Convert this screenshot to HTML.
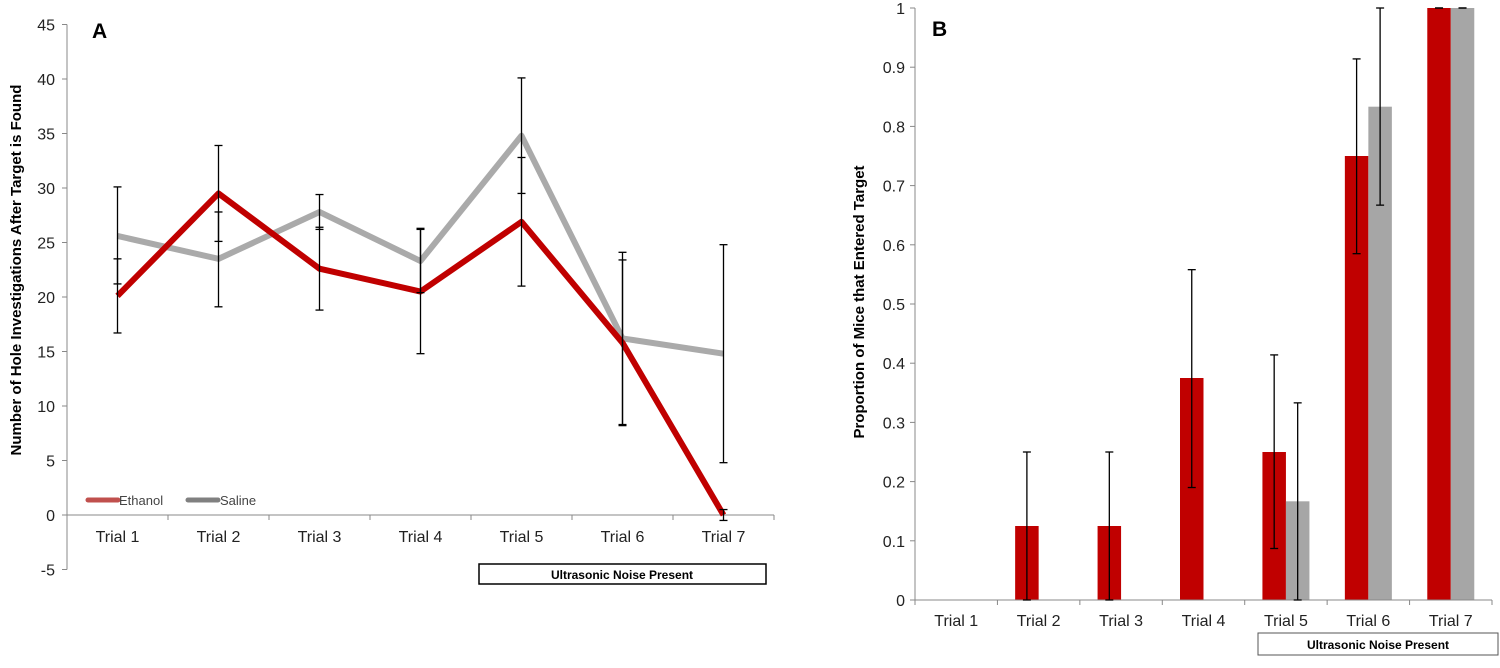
<!DOCTYPE html>
<html><head><meta charset="utf-8"><style>
body{margin:0;background:#fff;width:1500px;height:663px;overflow:hidden}
svg{font-family:"Liberation Sans",Arial,sans-serif}
</style></head><body>
<svg id="c" width="1500" height="663"></svg>
<script>
const categories=["Trial 1","Trial 2","Trial 3","Trial 4","Trial 5","Trial 6","Trial 7"];
const ethA=[20.1,29.5,22.6,20.5,26.9,15.8,0];
const salA=[25.6,23.5,27.8,23.3,34.8,16.2,14.8];
const ethALo=[16.7,25.1,18.8,14.8,21.0,8.3,-0.5];
const ethAHi=[23.5,33.9,26.4,26.2,32.8,23.4,0.5];
const salALo=[21.2,19.1,26.2,20.4,29.5,8.2,4.8];
const salAHi=[30.1,27.8,29.4,26.3,40.1,24.1,24.8];
const ticksA=[-5,0,5,10,15,20,25,30,35,40,45];
const ethB=[0,0.125,0.125,0.375,0.25,0.75,1];
const salB=[0,0,0,0,0.1667,0.8333,1];
const ethBLo=[null,0,0,0.19,0.087,0.585,1];
const ethBHi=[null,0.25,0.25,0.558,0.414,0.914,1];
const salBLo=[null,null,null,null,0,0.667,1];
const salBHi=[null,null,null,null,0.333,1,1];
const ticksB=[0,0.1,0.2,0.3,0.4,0.5,0.6,0.7,0.8,0.9,1];

const svg=document.getElementById('c');
const NS='http://www.w3.org/2000/svg';
function el(t,a,txt){const e=document.createElementNS(NS,t);for(const k in a)e.setAttribute(k,a[k]);if(txt!==undefined)e.textContent=txt;svg.appendChild(e);return e;}

// ---- Panel A
const ax0=67,ax1=774,cwA=(ax1-ax0)/7;
const yA=v=>515-(v)*10.9;
const xA=i=>ax0+cwA*(i+0.5);
let e=el('line',{x1:ax0,y1:yA(45),x2:ax0,y2:yA(-5),stroke:'#888','stroke-width':1});

ticksA.forEach(t=>{
 el('line',{x1:ax0-5,x2:ax0,y1:yA(t),y2:yA(t),stroke:'#888'});
 e=el('text',{x:ax0-12,y:yA(t)+6,'text-anchor':'end','font-size':16,fill:'#222'},t);
 
});
e=el('line',{x1:ax0,y1:yA(0),x2:ax1,y2:yA(0),stroke:'#888'});

for(let i=0;i<=7;i++)el('line',{x1:ax0+cwA*i,x2:ax0+cwA*i,y1:yA(0),y2:yA(0)+5,stroke:'#888'});
categories.forEach((c,i)=>{
 e=el('text',{x:xA(i),y:yA(0)+27,'text-anchor':'middle','font-size':16,fill:'#222'},c);
 
});
function errA(i,lo,hi){el('line',{x1:xA(i),x2:xA(i),y1:yA(lo),y2:yA(hi),stroke:'#000','stroke-width':1.3});
 [lo,hi].forEach(v=>el('line',{x1:xA(i)-4,x2:xA(i)+4,y1:yA(v),y2:yA(v),stroke:'#000','stroke-width':1.3}));}
e=el('polyline',{points:salA.map((v,i)=>xA(i)+','+yA(v)).join(' '),fill:'none',stroke:'#aaa','stroke-width':6,'stroke-linejoin':'round'});

e=el('polyline',{points:ethA.map((v,i)=>xA(i)+','+yA(v)).join(' '),fill:'none',stroke:'#c00000','stroke-width':6,'stroke-linejoin':'round'});

categories.forEach((c,i)=>{errA(i,ethALo[i],ethAHi[i]);errA(i,salALo[i],salAHi[i]);});
e=el('line',{x1:88,x2:118,y1:500,y2:500,stroke:'#c0504d','stroke-width':5,'stroke-linecap':'round'});

e=el('text',{x:119,y:505,'font-size':13,fill:'#444'},'Ethanol');

e=el('line',{x1:188,x2:218,y1:500,y2:500,stroke:'#808080','stroke-width':5,'stroke-linecap':'round'});

e=el('text',{x:220,y:505,'font-size':13,fill:'#444'},'Saline');

e=el('text',{x:92,y:38,'font-size':21,'font-weight':'bold'},'A');

e=el('text',{x:0,y:0,'font-size':15,'font-weight':'bold','text-anchor':'middle',transform:'translate(21,270) rotate(-90)'},'Number of Hole Investigations After Target is Found');

e=el('rect',{x:479,y:564,width:287,height:20,fill:'#fff',stroke:'#000','stroke-width':1.5});

e=el('text',{x:622,y:579,'font-size':12,'font-weight':'bold','text-anchor':'middle'},'Ultrasonic Noise Present');


// ---- Panel B
const bx0=915,bx1=1492,cwB=(bx1-bx0)/7,bw=23.5;
const yB=v=>600-v*592;
const xB=i=>bx0+cwB*(i+0.5);
e=el('line',{x1:bx0,y1:yB(1),x2:bx0,y2:yB(0),stroke:'#888'});

ticksB.forEach(t=>{
 el('line',{x1:bx0-5,x2:bx0,y1:yB(t),y2:yB(t),stroke:'#888'});
 e=el('text',{x:bx0-10,y:yB(t)+6,'text-anchor':'end','font-size':16,fill:'#222'},t);
 
});
categories.forEach((c,i)=>{
 e=el('rect',{x:xB(i)-bw,y:yB(ethB[i]),width:bw,height:yB(0)-yB(ethB[i]),fill:'#c00000'});
 
 e=el('rect',{x:xB(i),y:yB(salB[i]),width:bw,height:yB(0)-yB(salB[i]),fill:'#a6a6a6'});
 
});
e=el('line',{x1:bx0,y1:yB(0),x2:bx1,y2:yB(0),stroke:'#888'});

for(let i=0;i<=7;i++)el('line',{x1:bx0+cwB*i,x2:bx0+cwB*i,y1:yB(0),y2:yB(0)+5,stroke:'#888'});
categories.forEach((c,i)=>{
 e=el('text',{x:xB(i),y:yB(0)+26,'text-anchor':'middle','font-size':16,fill:'#222'},c);
 
});
function errB(x,lo,hi){if(lo===null)return;el('line',{x1:x,x2:x,y1:yB(lo),y2:yB(hi),stroke:'#000','stroke-width':1.3});
 [lo,hi].forEach(v=>el('line',{x1:x-4,x2:x+4,y1:yB(v),y2:yB(v),stroke:'#000','stroke-width':1.3}));}
categories.forEach((c,i)=>{errB(xB(i)-bw/2,ethBLo[i],ethBHi[i]);errB(xB(i)+bw/2,salBLo[i],salBHi[i]);});
e=el('text',{x:932,y:36,'font-size':21,'font-weight':'bold'},'B');

e=el('text',{x:0,y:0,'font-size':15,'font-weight':'bold','text-anchor':'middle',transform:'translate(864,302) rotate(-90)'},'Proportion of Mice that Entered Target');

e=el('rect',{x:1258,y:633,width:240,height:22,fill:'#fff',stroke:'#555','stroke-width':1});

e=el('text',{x:1378,y:649,'font-size':12,'font-weight':'bold','text-anchor':'middle'},'Ultrasonic Noise Present');

</script>
</body></html>
